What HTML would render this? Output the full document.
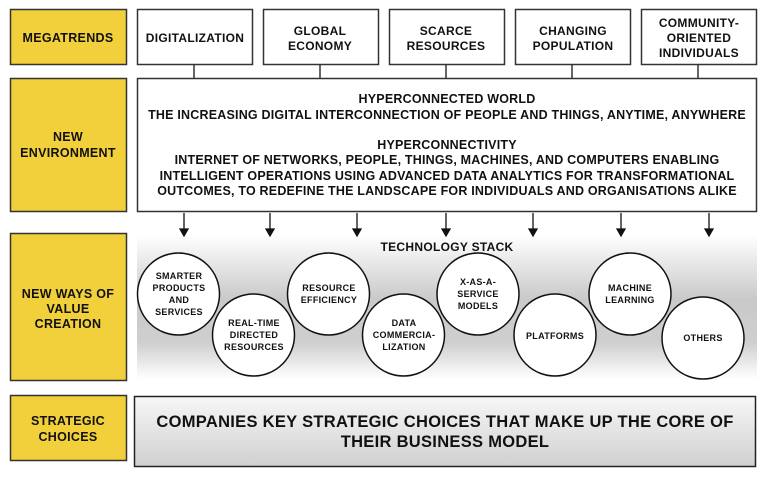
<!DOCTYPE html>
<html><head><meta charset="utf-8"><style>
html,body{margin:0;padding:0;background:#fff;}
svg{display:block;}
text{font-family:"Liberation Sans",sans-serif;font-weight:bold;fill:#111;text-anchor:middle;}
</style></head><body>
<svg width="768" height="477" viewBox="0 0 768 477" xmlns="http://www.w3.org/2000/svg">
<defs>
<linearGradient id="g" x1="0" y1="0" x2="0" y2="1">
<stop offset="0" stop-color="#fff"/><stop offset="0.45" stop-color="#c9c9c9"/><stop offset="0.75" stop-color="#cfcfcf"/><stop offset="1" stop-color="#fff"/>
</linearGradient>
<linearGradient id="g2" x1="0" y1="0" x2="0" y2="1">
<stop offset="0" stop-color="#f7f7f7"/><stop offset="1" stop-color="#d0d0d0"/>
</linearGradient>
</defs>
<g fill="#f2d03b" stroke="#333" stroke-width="1.5">
<rect x="10.5" y="9.5" width="116" height="55"/>
<rect x="10.5" y="78.5" width="116" height="133"/>
<rect x="10.5" y="233.5" width="116" height="147"/>
<rect x="10.5" y="395.5" width="116" height="65"/>
</g>
<g font-size="12.5" letter-spacing="0.3">
<text x="68" y="42">MEGATRENDS</text>
<text x="68" y="141">NEW</text><text x="68" y="157">ENVIRONMENT</text>
<text x="68" y="298">NEW WAYS OF</text><text x="68" y="313">VALUE</text><text x="68" y="328">CREATION</text>
<text x="68" y="425">STRATEGIC</text><text x="68" y="441">CHOICES</text>
</g>
<g fill="#fff" stroke="#333" stroke-width="1.5">
<rect x="137.5" y="9.5" width="115" height="55"/>
<rect x="263.5" y="9.5" width="115" height="55"/>
<rect x="389.5" y="9.5" width="115" height="55"/>
<rect x="515.5" y="9.5" width="115" height="55"/>
<rect x="641.5" y="9.5" width="115" height="55"/>
<rect x="137.5" y="78.5" width="619" height="133"/>
</g>
<g stroke="#333" stroke-width="1.5">
<line x1="194" y1="65" x2="194" y2="78"/><line x1="320" y1="65" x2="320" y2="78"/>
<line x1="446" y1="65" x2="446" y2="78"/><line x1="572" y1="65" x2="572" y2="78"/>
<line x1="698" y1="65" x2="698" y2="78"/>
</g>
<g font-size="12" letter-spacing="0.3">
<text x="195" y="42">DIGITALIZATION</text>
<text x="320" y="35">GLOBAL</text><text x="320" y="50">ECONOMY</text>
<text x="446" y="35">SCARCE</text><text x="446" y="50">RESOURCES</text>
<text x="573" y="35">CHANGING</text><text x="573" y="50">POPULATION</text>
<text x="699" y="27">COMMUNITY-</text><text x="699" y="42">ORIENTED</text><text x="699" y="57">INDIVIDUALS</text>
</g>
<g font-size="12.5" letter-spacing="0.2">
<text x="447" y="103">HYPERCONNECTED WORLD</text>
<text x="447" y="119">THE INCREASING DIGITAL INTERCONNECTION OF PEOPLE AND THINGS, ANYTIME, ANYWHERE</text>
<text x="447" y="149">HYPERCONNECTIVITY</text>
<text x="447" y="164">INTERNET OF NETWORKS, PEOPLE, THINGS, MACHINES, AND COMPUTERS ENABLING</text>
<text x="447" y="180">INTELLIGENT OPERATIONS USING ADVANCED DATA ANALYTICS FOR TRANSFORMATIONAL</text>
<text x="447" y="195">OUTCOMES, TO REDEFINE THE LANDSCAPE FOR INDIVIDUALS AND ORGANISATIONS ALIKE</text>
</g>
<rect x="137" y="235" width="620" height="144" fill="url(#g)"/>
<g stroke="#111" stroke-width="1.3" fill="#111">
<line x1="184" y1="213" x2="184" y2="230"/><polygon points="180,229 188,229 184,236"/>
<line x1="270" y1="213" x2="270" y2="230"/><polygon points="266,229 274,229 270,236"/>
<line x1="357" y1="213" x2="357" y2="230"/><polygon points="353,229 361,229 357,236"/>
<line x1="446" y1="213" x2="446" y2="230"/><polygon points="442,229 450,229 446,236"/>
<line x1="533" y1="213" x2="533" y2="230"/><polygon points="529,229 537,229 533,236"/>
<line x1="621" y1="213" x2="621" y2="230"/><polygon points="617,229 625,229 621,236"/>
<line x1="709" y1="213" x2="709" y2="230"/><polygon points="705,229 713,229 709,236"/>
</g>
<text x="447" y="251" font-size="12" letter-spacing="0.3">TECHNOLOGY STACK</text>
<g fill="#fff" stroke="#111" stroke-width="1.5">
<ellipse cx="178.5" cy="294" rx="41" ry="41"/>
<ellipse cx="253.5" cy="335" rx="41" ry="41"/>
<ellipse cx="328.5" cy="294" rx="41" ry="41"/>
<ellipse cx="403.5" cy="335" rx="41" ry="41"/>
<ellipse cx="478" cy="294" rx="41" ry="41"/>
<ellipse cx="555" cy="335" rx="41" ry="41"/>
<ellipse cx="630" cy="294" rx="41" ry="41"/>
<ellipse cx="703" cy="338" rx="41" ry="41"/>
</g>
<g font-size="9" letter-spacing="0.3">
<text x="179" y="279">SMARTER</text><text x="179" y="291">PRODUCTS</text><text x="179" y="303">AND</text><text x="179" y="315">SERVICES</text>
<text x="254" y="326">REAL-TIME</text><text x="254" y="338">DIRECTED</text><text x="254" y="350">RESOURCES</text>
<text x="329" y="291">RESOURCE</text><text x="329" y="303">EFFICIENCY</text>
<text x="404" y="326">DATA</text><text x="404" y="338">COMMERCIA-</text><text x="404" y="350">LIZATION</text>
<text x="478" y="285">X-AS-A-</text><text x="478" y="297">SERVICE</text><text x="478" y="309">MODELS</text>
<text x="555" y="339">PLATFORMS</text>
<text x="630" y="291">MACHINE</text><text x="630" y="303">LEARNING</text>
<text x="703" y="341">OTHERS</text>
</g>
<rect x="134.5" y="396.5" width="621" height="70" fill="url(#g2)" stroke="#222" stroke-width="1.5"/>
<g font-size="16.5" letter-spacing="0.3">
<text x="445" y="427">COMPANIES KEY STRATEGIC CHOICES THAT MAKE UP THE CORE OF</text>
<text x="445" y="447">THEIR BUSINESS MODEL</text>
</g>
</svg>
</body></html>
